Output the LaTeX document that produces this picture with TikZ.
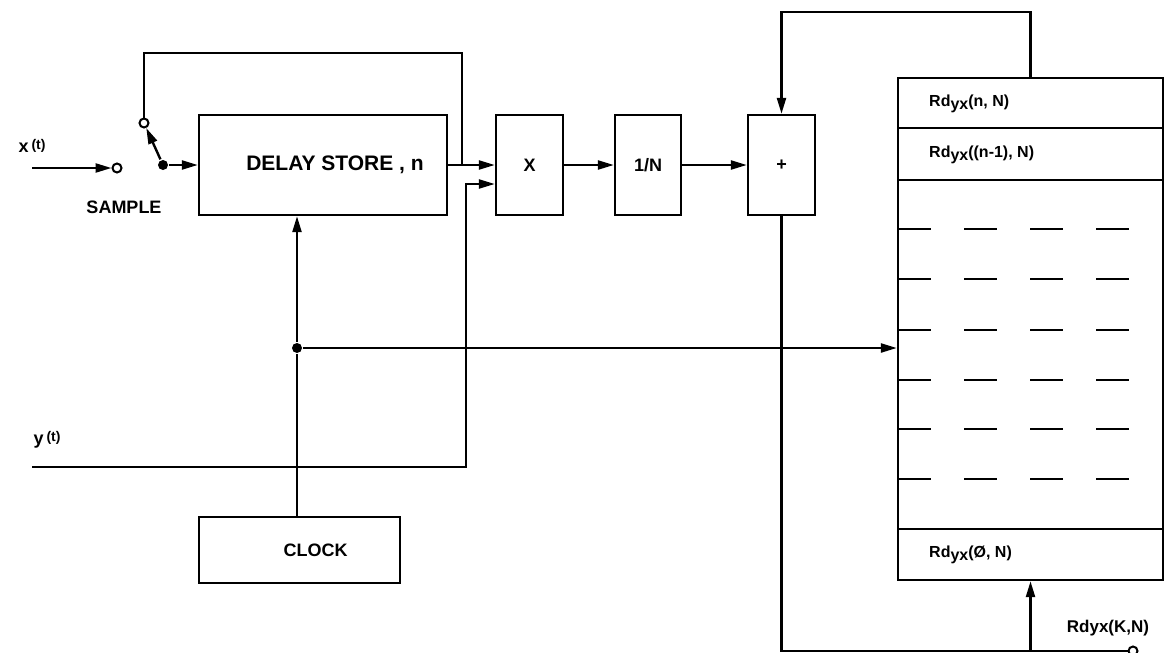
\documentclass[tikz,border=0pt]{standalone}
\usepackage{fontspec}
\setmainfont{Liberation Sans}
\usetikzlibrary{arrows.meta}
\begin{document}
\begin{tikzpicture}[x=1pt,y=-1pt,line width=2.4pt,
  blk/.style={draw,inner sep=0pt,minimum height=100pt,font=\bfseries\fontsize{18}{21}\selectfont},
  arr/.style={-{Triangle[length=16pt,width=9pt]}},
  lbl/.style={inner sep=0pt,font=\bfseries\fontsize{18}{21}\selectfont},
  reglbl/.style={anchor=west,inner sep=0pt,font=\bfseries\fontsize{16}{19}\selectfont},
  opn/.style={circle,draw,line width=2pt,fill=white,inner sep=0pt,minimum size=9pt},
  jdot/.style={circle,fill,inner sep=0pt,minimum size=10pt}]
\useasboundingbox (0,0) rectangle (1167,653);
\node[blk,minimum width=248pt,font=\bfseries\fontsize{21}{25}\selectfont] (delay) at (323,165) {\hspace{24pt}DELAY STORE , n};
\node[blk,minimum width=67pt] (mult) at (529.5,165) {X};
\node[blk,minimum width=66pt] (recip) at (648,165) {1/N};
\node[blk,minimum width=67pt] (add) at (781.5,165) {+};
\node[blk,minimum width=201pt,minimum height=66pt] (clock) at (299.5,550) {\hspace{32pt}CLOCK};
\node[draw,minimum width=265pt,minimum height=502pt] (reg) at (1030.5,329) {};
\foreach \y in {128,180,529} \draw (898,\y) -- (1163,\y);
\foreach \y in {229,279,330,380,429,479} \draw[dash pattern=on 33pt off 33pt] (898,\y) -- (1163,\y);
\node[reglbl] (r1) at (928,104) {Rd\raisebox{-3pt}{yx}(n, N)};
\node[reglbl] (r2) at (928,155) {Rd\raisebox{-3pt}{yx}((n-1), N)};
\node[reglbl] (r0) at (928,555) {Rd\raisebox{-3pt}{yx}(Ø, N)};
\node[lbl] (xlbl) at (32,146) {x\,\raisebox{3pt}{\fontsize{14}{16}\selectfont(t)}};
\node[lbl] (ylbl) at (47,440) {y\,\raisebox{3pt}{\fontsize{14}{16}\selectfont(t)}};
\node[lbl] (smp) at (124,207) {SAMPLE};
\node[lbl,font=\bfseries\fontsize{17}{20}\selectfont] (klbl) at (1108,628) {Rdyx(K,N)};
\coordinate (xin) at (32,168);
\coordinate (yin) at (32,467);
\coordinate (fb) at (462,165);
\node[opn] (swlow) at (117,168) {};
\node[opn] (swtop) at (144,123) {};
\node[jdot] (pivot) at (163,165) {};
\node[jdot] (jclk) at (297,348) {};
\node[opn] (kout) at (1133,651) {};
\draw[arr] (xin) -- (swlow);
\draw[arr] (pivot) -- (swtop);
\draw[arr] (pivot) -- (delay.west);
\draw[arr] (delay.east) -- (mult.west);
\draw (fb) -- (462,53) -| (swtop.north);
\draw[arr] (yin) -- (466,467) |- ([yshift=-19pt]mult.west);
\draw[arr] (mult.east) -- (recip.west);
\draw[arr] (recip.east) -- (add.west);
\draw (clock.north -| jclk) -- (jclk);
\draw[arr] (jclk) -- (jclk |- delay.south);
\draw[arr] (jclk) -- (jclk -| reg.west);
\draw[arr] (reg.north) -- ++(0,-65) -| (add.north);
\draw (add.south) |- (kout.west);
\draw[arr] (reg.south |- kout) -- (reg.south);
\end{tikzpicture}
\end{document}
